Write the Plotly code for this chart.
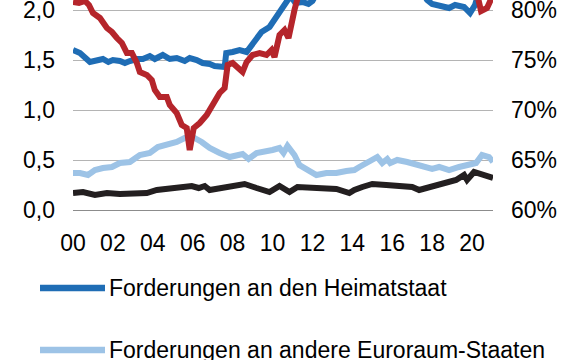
import plotly.graph_objects as go

# ---------------- data ----------------
years_heimat = [2000.0, 2000.35, 2000.85, 2001.2, 2001.5, 2001.77, 2002.0, 2002.35, 2002.6, 2002.85,
                2003.2, 2003.5, 2003.85, 2004.1, 2004.5, 2004.85, 2005.2, 2005.6, 2005.85, 2006.2,
                2006.5, 2006.85, 2007.1, 2007.6, 2007.68, 2008.0, 2008.35, 2008.7, 2009.0, 2009.45,
                2009.85, 2010.2, 2010.45, 2010.7, 2010.9, 2011.15, 2011.5, 2011.8, 2012.0, 2012.3,
                2013.0, 2014.0, 2015.0, 2016.0, 2017.0, 2017.5, 2017.75, 2018.0, 2018.5, 2018.85,
                2019.15, 2019.6, 2019.9, 2020.15, 2020.3, 2020.6, 2021.05]
heimat = [1.60, 1.57, 1.48, 1.50, 1.51, 1.48, 1.50, 1.49, 1.47, 1.49,
          1.51, 1.51, 1.54, 1.51, 1.55, 1.51, 1.52, 1.49, 1.52, 1.50,
          1.47, 1.46, 1.44, 1.43, 1.57, 1.58, 1.60, 1.58, 1.67, 1.78,
          1.83, 1.93, 2.00, 2.08, 2.14, 2.07, 2.08, 2.06, 2.09, 2.20,
          2.35, 2.45, 2.50, 2.40, 2.28, 2.18, 2.10, 2.06, 2.03, 2.02,
          2.05, 2.03, 1.97, 2.05, 2.15, 2.30, 2.40]

years_andere = [2000.0, 2000.35, 2000.75, 2001.1, 2001.5, 2001.95, 2002.35, 2002.85, 2003.35, 2003.85,
                2004.25, 2004.75, 2005.2, 2005.6, 2006.0, 2006.45, 2006.85, 2007.35, 2007.85, 2008.5,
                2008.8, 2009.2, 2009.7, 2010.0, 2010.35, 2010.55, 2010.75, 2011.1, 2011.35, 2011.85,
                2012.2, 2012.7, 2013.2, 2013.7, 2014.1, 2014.35, 2014.85, 2015.25, 2015.5, 2015.75,
                2015.9, 2016.25, 2016.75, 2017.2, 2017.6, 2018.0, 2018.35, 2018.85, 2019.35, 2019.85,
                2020.2, 2020.5, 2020.85, 2021.05]
andere = [0.37, 0.37, 0.35, 0.40, 0.42, 0.43, 0.47, 0.48, 0.55, 0.57,
          0.63, 0.65, 0.68, 0.72, 0.73, 0.68, 0.62, 0.57, 0.53, 0.56,
          0.51, 0.57, 0.58, 0.60, 0.62, 0.57, 0.64, 0.55, 0.45, 0.40,
          0.35, 0.37, 0.37, 0.39, 0.40, 0.43, 0.48, 0.53, 0.47, 0.51,
          0.47, 0.50, 0.48, 0.46, 0.43, 0.41, 0.43, 0.40, 0.43, 0.45,
          0.47, 0.55, 0.53, 0.48]

years_sonstige = [2000.0, 2000.5, 2001.1, 2001.7, 2002.35, 2003.0, 2003.7, 2004.2, 2004.85, 2005.5,
                  2005.95, 2006.3, 2006.6, 2006.85, 2007.1, 2007.5, 2008.0, 2008.6, 2009.2, 2009.85,
                  2010.35, 2010.85, 2011.25, 2011.85, 2012.5, 2013.2, 2013.85, 2014.1, 2014.5, 2015.0,
                  2015.7, 2016.35, 2017.0, 2017.35, 2017.95, 2018.5, 2019.2, 2019.6, 2019.75, 2020.1,
                  2020.5, 2021.05]
sonstige = [0.17, 0.18, 0.15, 0.17, 0.16, 0.17, 0.17, 0.20, 0.21, 0.23,
            0.24, 0.22, 0.24, 0.20, 0.21, 0.22, 0.24, 0.26, 0.22, 0.18,
            0.24, 0.18, 0.23, 0.22, 0.22, 0.21, 0.17, 0.20, 0.23, 0.26,
            0.25, 0.24, 0.23, 0.20, 0.23, 0.27, 0.30, 0.35, 0.30, 0.38,
            0.35, 0.32]

years_anteil = [2000.0, 2000.3, 2000.6, 2000.8, 2001.0, 2001.35, 2001.7, 2001.95, 2002.2, 2002.45,
                2002.7, 2002.95, 2003.2, 2003.35, 2003.7, 2003.95, 2004.1, 2004.35, 2004.7, 2004.85,
                2005.2, 2005.45, 2005.7, 2005.85, 2006.05, 2006.35, 2006.7, 2006.95, 2007.2, 2007.35,
                2007.6, 2007.75, 2008.0, 2008.25, 2008.5, 2008.7, 2009.0, 2009.35, 2009.7, 2009.95,
                2010.1, 2010.35, 2010.6, 2010.8, 2010.95, 2011.1, 2011.3, 2012.0, 2013.0, 2014.0,
                2015.0, 2016.0, 2017.0, 2018.0, 2019.0, 2019.8, 2020.3, 2020.45, 2020.75, 2021.05]
anteil = [80.8, 80.7, 80.9, 80.5, 79.7, 79.2, 78.2, 77.8, 77.2, 76.7,
          75.7, 75.7, 74.7, 73.8, 73.5, 73.0, 72.0, 71.3, 71.3, 70.5,
          69.7, 68.5, 68.2, 66.0, 68.2, 68.7, 69.5, 70.4, 71.0, 71.7,
          72.2, 74.5, 74.7, 74.3, 73.8, 74.8, 75.5, 75.7, 75.5, 76.0,
          75.3, 77.5, 78.0, 77.2, 79.0, 80.0, 81.5, 83.0, 84.0, 84.5,
          84.0, 83.5, 83.0, 82.5, 82.0, 81.5, 81.2, 79.9, 80.2, 81.5]

tick_years = [2000, 2002, 2004, 2006, 2008, 2010, 2012, 2014, 2016, 2018, 2020]
tick_labels = ["00", "02", "04", "06", "08", "10", "12", "14", "16", "18", "20"]
left_ticks = [0.0, 0.5, 1.0, 1.5, 2.0]
left_labels = ["0,0", "0,5", "1,0", "1,5", "2,0"]
right_ticks = [60, 65, 70, 75, 80]
right_labels = ["60%", "65%", "70%", "75%", "80%"]

legend_names = ["Forderungen an den Heimatstaat", "Forderungen an andere Euroraum-Staaten"]

C_HEIMAT = "#1f6db5"
C_ANDERE = "#9dc3e6"
C_SONST = "#231f20"
C_ANTEIL = "#b5252b"
FONT = "Liberation Sans, Arial, sans-serif"
LW = 6

fig = go.Figure()
fig.add_trace(go.Scatter(x=years_andere, y=andere, mode="lines",
                         line=dict(color=C_ANDERE, width=LW), showlegend=False))
fig.add_trace(go.Scatter(x=years_sonstige, y=sonstige, mode="lines",
                         line=dict(color=C_SONST, width=LW), showlegend=False))
fig.add_trace(go.Scatter(x=years_heimat, y=heimat, mode="lines",
                         line=dict(color=C_HEIMAT, width=LW), showlegend=False))
fig.add_trace(go.Scatter(x=years_anteil, y=anteil, mode="lines", yaxis="y2",
                         line=dict(color=C_ANTEIL, width=LW), showlegend=False))

# manual legend (long line samples as in the reference)
plot_h = 210.0
plot_w = 420.0
def px_x(p):
    return (p - 73) / plot_w
def px_y(p):
    return (plot_h - p) / plot_h

for name, col, py in zip(legend_names, [C_HEIMAT, C_ANDERE], [288, 350]):
    fig.add_shape(type="line", xref="paper", yref="paper",
                  x0=px_x(40), x1=px_x(105), y0=px_y(py), y1=px_y(py),
                  line=dict(color=col, width=6.5))
    fig.add_annotation(xref="paper", yref="paper", x=px_x(108), y=px_y(py),
                       text=name, showarrow=False, xanchor="left", yanchor="middle",
                       borderpad=0,
                       font=dict(family=FONT, size=23, color="#000000"))

fig.update_layout(
    width=579, height=360,
    margin=dict(l=73, r=86, t=0, b=150, pad=0, autoexpand=False),
    paper_bgcolor="white", plot_bgcolor="white",
    font=dict(family=FONT, size=23, color="#000000"),
    showlegend=False,
    xaxis=dict(range=[2000, 2021.05], tickvals=tick_years, ticktext=tick_labels,
               showgrid=False, zeroline=False, showline=True, linecolor="#8c8c8c",
               linewidth=1.3, ticks="", ticklabelstandoff=12, automargin=False,
               ticklabeloverflow="allow",
               tickfont=dict(family=FONT, size=23, color="#000000")),
    yaxis=dict(range=[0, 2.1], tickvals=left_ticks, ticktext=left_labels,
               showgrid=True, gridcolor="#b4b4b4", gridwidth=1.3, zeroline=False,
               showline=False, ticks="", ticklabelstandoff=17, automargin=False,
               ticklabeloverflow="allow",
               tickfont=dict(family=FONT, size=23, color="#000000")),
    yaxis2=dict(range=[60, 81], tickvals=right_ticks, ticktext=right_labels,
                overlaying="y", side="right", showgrid=False, zeroline=False,
                showline=False, ticks="", ticklabelstandoff=17, automargin=False,
                ticklabeloverflow="allow",
                tickfont=dict(family=FONT, size=23, color="#000000")),
)

fig.write_html("out.html", config={"displayModeBar": False},
               post_script="document.body.style.margin='0';document.body.style.overflow='hidden';")
